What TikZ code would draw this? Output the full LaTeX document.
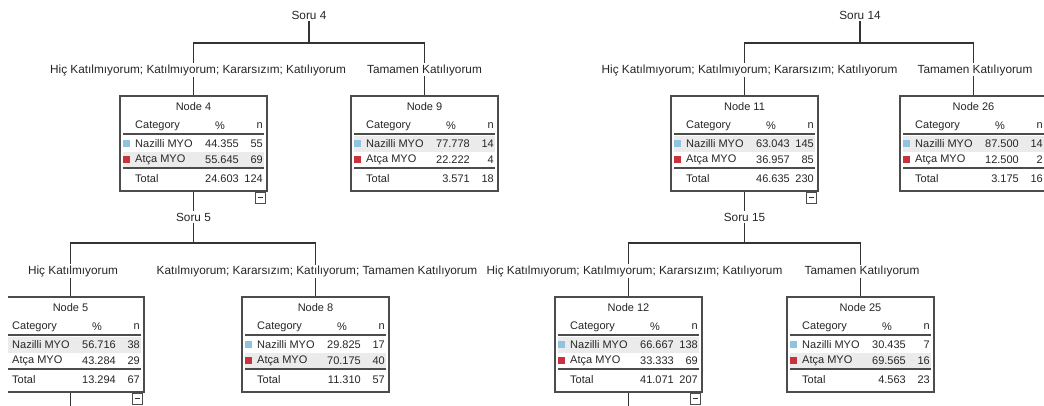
\documentclass[tikz,border=0pt]{standalone}
\usepackage{fontspec}
\setmainfont{Liberation Sans}
\definecolor{nazilli}{HTML}{8FC3E0}
\definecolor{atca}{HTML}{C8323C}
\definecolor{rowgray}{HTML}{EBEBEB}
\tikzset{
  edge/.style={draw=black!80, line width=1.3pt},
  branch/.style={fill=white, inner sep=1pt, text=black!85, font=\fontsize{11.8}{13}\selectfont},
  split/.style={inner sep=2pt, text=black!85, font=\fontsize{11.8}{13}\selectfont},
  nodebox/.style={draw=black!70, line width=1.3pt, minimum width=147pt, minimum height=95pt, inner sep=0pt},
  cell/.style={inner sep=0pt, text=black!85, font=\fontsize{11}{12}\selectfont},
  rule/.style={draw=black!70, line width=1.5pt},
  collapse/.style={draw=black!70, line width=1pt, minimum width=10pt, minimum height=11pt, inner sep=0pt,
    path picture={\draw[black!80, line width=1pt] ([xshift=2.5pt]path picture bounding box.west) -- ([xshift=-2.5pt]path picture bounding box.east);}}
}
\newcommand{\treebox}[9]{%
  \begin{scope}[shift={#2}]
    \ifnum#9=1 \fill[rowgray] (3,40) rectangle (144,56);\else \fill[rowgray] (3,56) rectangle (144,71);\fi
    \node[nodebox] (n#1) at (73.5,47.5) {};
    \node[cell] (n#1-title) at (73.5,11) {Node #1};
    \node[cell, anchor=west] (n#1-cat) at (15,30) {Category};
    \node[cell] (n#1-pct) at (100,30) {\%};
    \node[cell, anchor=east] (n#1-n) at (143,30) {n};
    \draw[rule] (3,38) -- (144,38);
    \fill[nazilli] (3,44) rectangle (10,51);
    \node[cell, anchor=west] (n#1-a) at (15,48) {Nazilli MYO};
    \node[cell, anchor=east] (n#1-ap) at (119,48) {#3};
    \node[cell, anchor=east] (n#1-an) at (143,48) {#4};
    \fill[atca] (3,60) rectangle (10,67);
    \node[cell, anchor=west] (n#1-b) at (15,64) {Atça MYO};
    \node[cell, anchor=east] (n#1-bp) at (119,64) {#5};
    \node[cell, anchor=east] (n#1-bn) at (143,64) {#6};
    \draw[rule] (3,72) -- (144,72);
    \node[cell, anchor=west] (n#1-t) at (15,83) {Total};
    \node[cell, anchor=east] (n#1-tp) at (119,83) {#7};
    \node[cell, anchor=east] (n#1-tn) at (143,83) {#8};
  \end{scope}}

\begin{document}
\begin{tikzpicture}[x=1pt, y=-1pt]
    \clip (0,0) rectangle (1044,406);
    \fill[white] (0,0) rectangle (1044,406);

    \treebox{4}{(120,96)}{44.355}{55}{55.645}{69}{24.603}{124}{2}
    \treebox{9}{(351,96)}{77.778}{14}{22.222}{4}{3.571}{18}{1}
    \treebox{11}{(671,96)}{63.043}{145}{36.957}{85}{46.635}{230}{1}
    \treebox{26}{(900,96)}{87.500}{14}{12.500}{2}{3.175}{16}{1}
    \treebox{5}{(-3,297)}{56.716}{38}{43.284}{29}{13.294}{67}{1}
    \treebox{8}{(242,297)}{29.825}{17}{70.175}{40}{11.310}{57}{2}
    \treebox{12}{(555,297)}{66.667}{138}{33.333}{69}{41.071}{207}{1}
    \treebox{25}{(787,297)}{30.435}{7}{69.565}{16}{4.563}{23}{2}
    \fill[white] (0,290) rectangle (8,400);

    \node[split] (s4) at (309,15) {Soru 4};
    \node[split] (s14) at (860,15) {Soru 14};
    \node[split] (s5) at (193.5,217) {Soru 5};
    \node[split] (s15) at (744.5,217) {Soru 15};

    \coordinate (b4) at (309,43);
    \coordinate (b14) at (860,43);
    \coordinate (b5) at (193.5,243);
    \coordinate (b15) at (744.5,243);
    \coordinate (e5) at (70.5,406);
    \coordinate (e12) at (628.5,406);

    \draw[edge] (s4.south) -- (b4);
    \draw[edge] (n4.north) |- (b4) -| (n9.north);
    \draw[edge] (s14.south) -- (b14);
    \draw[edge] (n11.north) |- (b14) -| (n26.north);
    \draw[edge] (n4.south) -- (s5.north);
    \draw[edge] (n11.south) -- (s15.north);
    \draw[edge] (s5.south) -- (b5);
    \draw[edge] (n5.north) |- (b5) -| (n8.north);
    \draw[edge] (s15.south) -- (b15);
    \draw[edge] (n12.north) |- (b15) -| (n25.north);
    \draw[edge] (n5.south) -- (e5);
    \draw[edge] (n12.south) -- (e12);

    \node[branch] (l4) at (198,70) {Hiç Katılmıyorum; Katılmıyorum; Kararsızım; Katılıyorum};
    \node[branch] (l9) at (424.5,70) {Tamamen Katılıyorum};
    \node[branch] (l11) at (749.5,70) {Hiç Katılmıyorum; Katılmıyorum; Kararsızım; Katılıyorum};
    \node[branch] (l26) at (975,70) {Tamamen Katılıyorum};
    \node[branch] (l5) at (73,271) {Hiç Katılmıyorum};
    \node[branch] (l8) at (317,271) {Katılmıyorum; Kararsızım; Katılıyorum; Tamamen Katılıyorum};
    \node[branch] (l12) at (634.5,271) {Hiç Katılmıyorum; Katılmıyorum; Kararsızım; Katılıyorum};
    \node[branch] (l25) at (862,271) {Tamamen Katılıyorum};

    \node[collapse, anchor=north east] (c4) at ([xshift=-2pt]n4.south east) {};
    \node[collapse, anchor=north east] (c11) at ([xshift=-2pt]n11.south east) {};
    \node[collapse, anchor=north east] (c5) at ([xshift=-2pt]n5.south east) {};
    \node[collapse, anchor=north east] (c12) at ([xshift=-2pt]n12.south east) {};
\end{tikzpicture}
\end{document}
